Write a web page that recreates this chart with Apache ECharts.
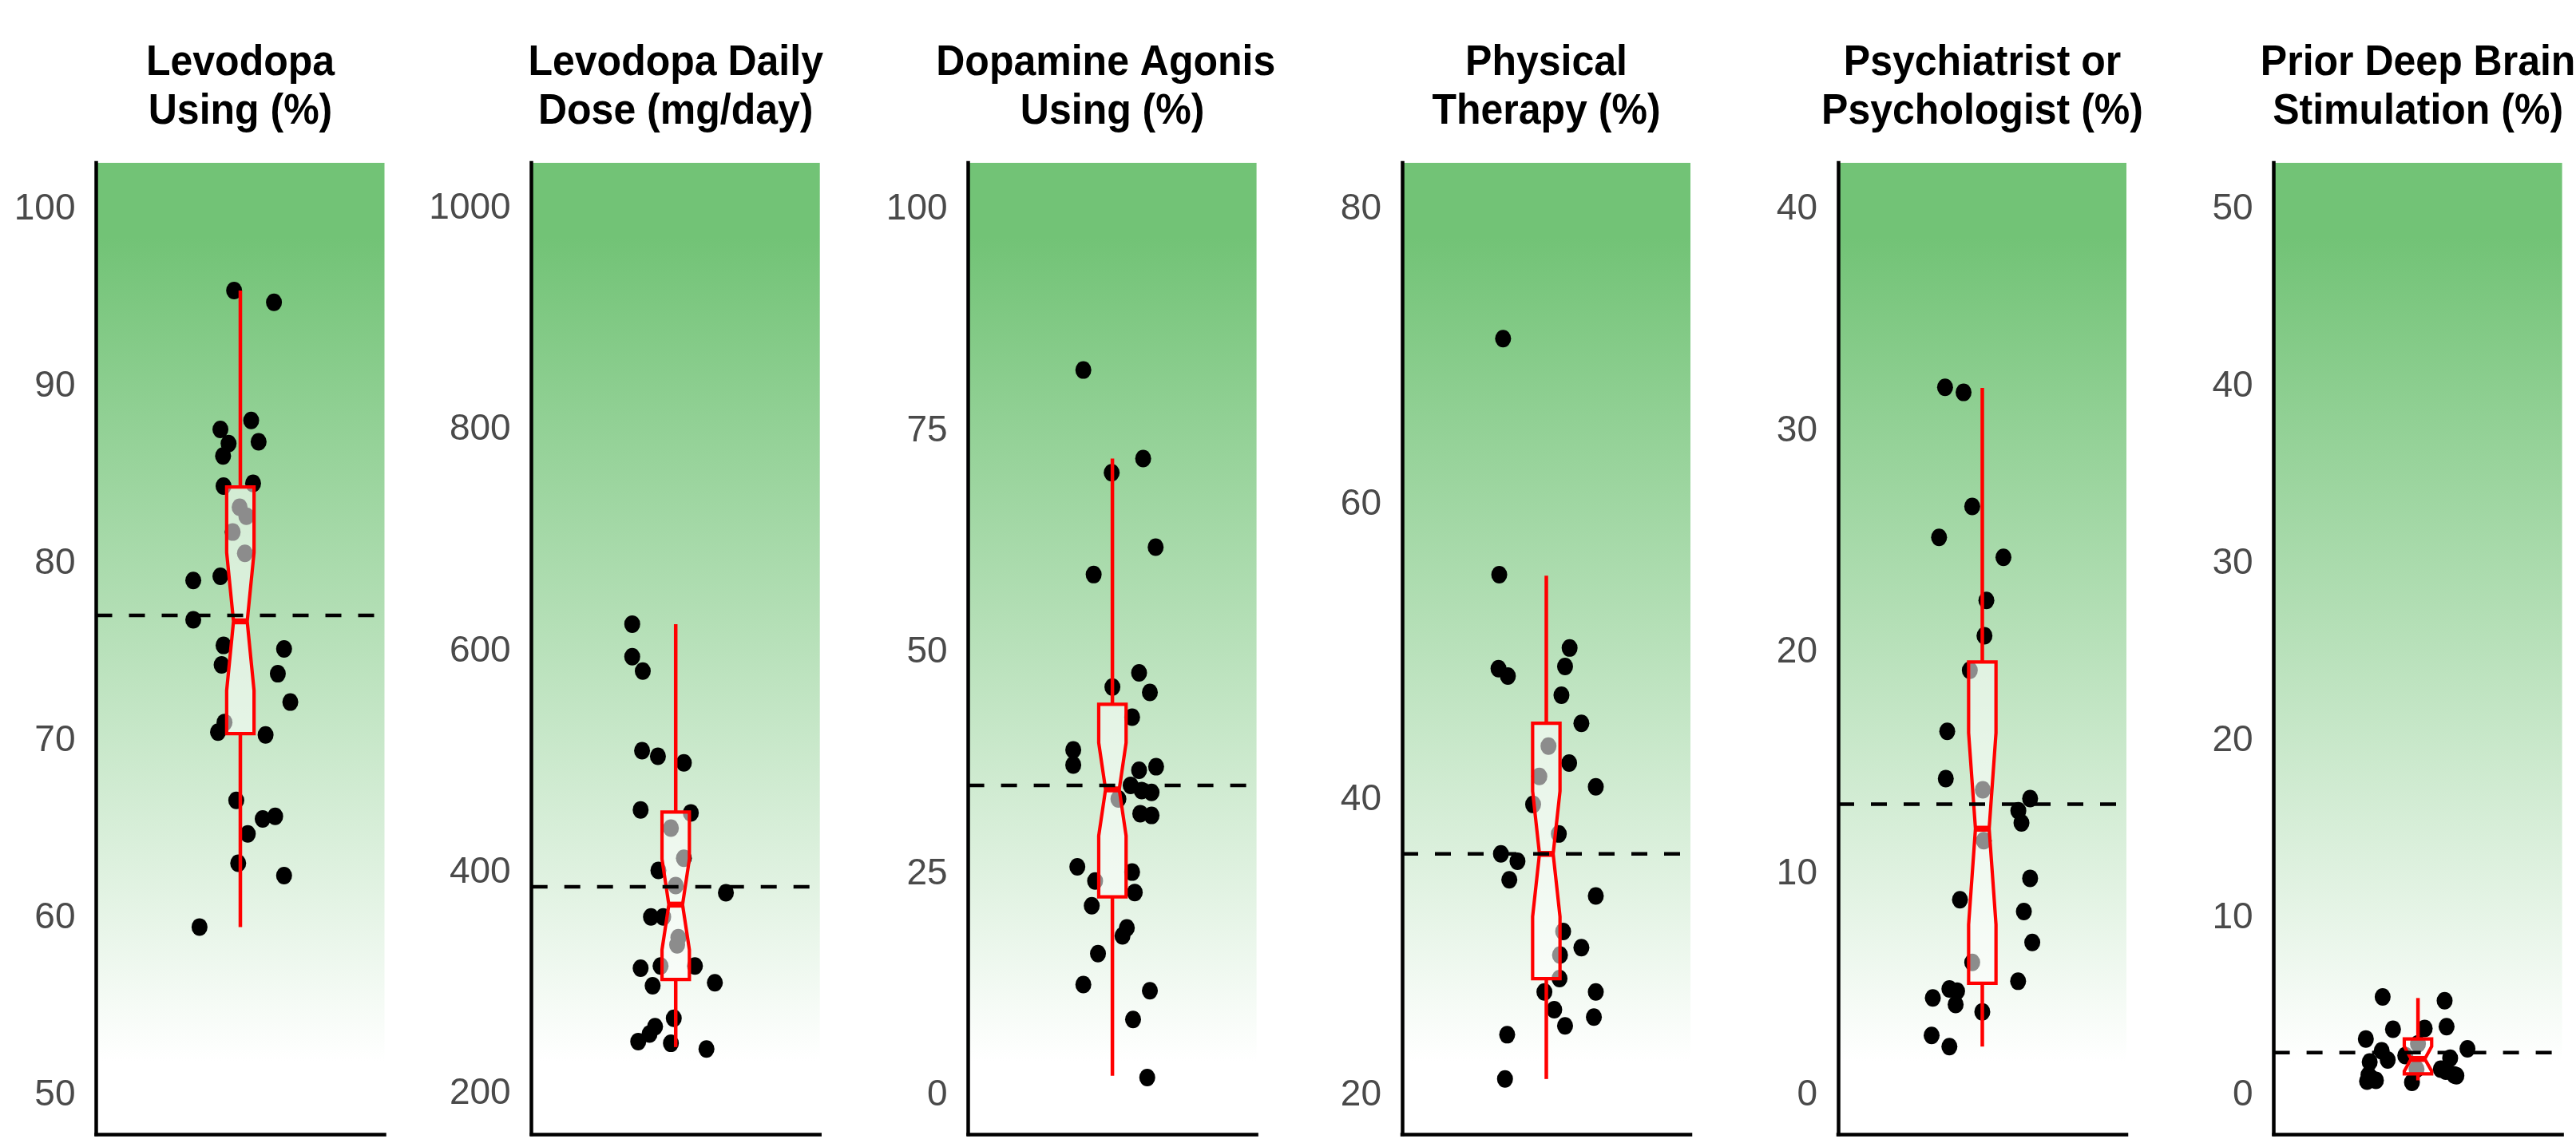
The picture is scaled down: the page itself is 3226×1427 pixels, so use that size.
<!DOCTYPE html>
<html>
<head>
<meta charset="utf-8">
<script src="https://cdn.jsdelivr.net/npm/echarts/dist/echarts.min.js"></script>
<style>
  html, body { margin: 0; padding: 0; background: #ffffff; }
  #chart { width: 3226px; height: 1427px; }
</style>
</head>
<body>
<div id="chart"></div>
<script>
// Panel titles, one array of lines per panel
const TITLE_LINES = [
  ['Levodopa', 'Using (%)'],
  ['Levodopa Daily', 'Dose (mg/day)'],
  ['Dopamine Agonist', 'Using (%)'],
  ['Physical', 'Therapy (%)'],
  ['Psychiatrist or', 'Psychologist (%)'],
  ['Prior Deep Brain', 'Stimulation (%)']
];

// Y tick labels per panel
const Y_TICKS = [
  [50, 60, 70, 80, 90, 100],
  [200, 400, 600, 800, 1000],
  [0, 25, 50, 75, 100],
  [20, 40, 60, 80],
  [0, 10, 20, 30, 40],
  [0, 10, 20, 30, 40, 50]
];

// Expanded y limits per panel
const Y_MIN = [47.8, 163.2, -4.4, 17.36, -1.76, -2.2];
const Y_MAX = [102.65, 1041.6, 105.3, 83.17, 42.12, 52.65];

// Reference (dashed) line per panel
const REF_LINES = [77.1, 387, 35.0, 36.35, 13.15, 2.41];

// Box statistics: [lower whisker, Q1, median, Q3, upper whisker, notch lower, notch upper]
const BOX_STATS = [
  [59.5, 70.42, 76.76, 84.35, 95.44, 72.85, 80.65],
  [242, 303.2, 370.8, 454.5, 624.5, 330, 412],
  [2.2, 22.4, 34.54, 44.16, 71.9, 29.3, 39.8],
  [21.1, 27.9, 36.35, 45.2, 55.2, 32.1, 40.6],
  [2.2, 5.06, 12.04, 19.57, 31.95, 7.71, 16.37],
  [0.84, 1.21, 2.05, 3.18, 5.49, 1.36, 2.76]
];

// Individual observations: [jittered x, value]
const levodopaUsing = [
  [0.974, 95.44], [1.140, 94.77], [1.045, 88.1], [0.917, 87.6], [0.951, 86.8], [0.928, 86.1],
  [1.076, 86.9], [0.930, 84.4], [1.053, 84.55], [0.997, 83.2], [1.025, 82.7], [0.968, 81.8],
  [1.019, 80.6], [0.804, 79.07], [0.917, 79.3], [0.804, 76.85], [0.930, 75.4], [1.182, 75.2],
  [0.922, 74.3], [1.156, 73.8], [1.208, 72.2], [0.907, 70.5], [0.934, 71.05], [1.105, 70.35],
  [0.983, 66.65], [1.093, 65.6], [1.145, 65.75], [1.031, 64.76], [0.991, 63.1], [1.182, 62.4],
  [0.830, 59.5]
];
const levodopaDose = [
  [0.819, 624.5], [0.819, 595], [0.863, 582], [0.860, 510], [0.926, 505], [1.034, 499],
  [0.854, 456.5], [1.063, 453.8], [0.980, 440], [1.034, 412.8], [0.928, 401.7], [1.000, 388],
  [1.209, 381.5], [0.897, 359.7], [0.948, 359.7], [1.011, 341], [1.006, 334.5], [0.854, 313.3],
  [0.937, 315.3], [1.080, 315.3], [0.904, 297.5], [1.163, 300.2], [0.992, 268], [0.914, 260.5],
  [0.891, 253.8], [0.844, 247], [0.980, 245.4], [1.128, 240.3]
];
const agonistUsing = [
  [0.879, 81.9], [1.128, 71.9], [0.997, 70.3], [1.180, 61.9], [0.922, 58.8], [1.111, 47.7],
  [1.000, 46.1], [1.156, 45.5], [1.082, 42.7], [0.837, 39.0], [0.837, 37.3], [1.111, 36.7],
  [1.182, 37.1], [1.076, 35.0], [1.122, 34.4], [1.163, 34.2], [1.025, 33.45], [1.116, 31.8],
  [1.163, 31.6], [0.854, 25.8], [1.082, 25.2], [0.928, 24.2], [1.093, 22.9], [0.914, 21.4],
  [1.060, 18.9], [1.042, 18.0], [0.940, 16.0], [0.879, 12.5], [1.156, 11.8], [1.086, 8.55],
  [1.145, 2.0]
];
const physicalTherapy = [
  [0.820, 71.26], [0.804, 55.27], [1.097, 50.3], [0.801, 48.9], [0.840, 48.4], [1.078, 49.05],
  [1.063, 47.1], [1.146, 45.2], [1.009, 43.65], [1.095, 42.5], [0.971, 41.6], [1.206, 40.9],
  [0.945, 39.7], [1.052, 37.7], [0.811, 36.35], [0.880, 35.85], [0.846, 34.6], [1.206, 33.5],
  [1.070, 31.1], [1.146, 30.0], [1.057, 29.5], [1.055, 27.9], [0.992, 27.0], [1.206, 27.0],
  [1.033, 25.8], [1.198, 25.3], [1.078, 24.7], [0.837, 24.1], [0.828, 21.1]
];
const psychCare = [
  [0.845, 31.98], [0.922, 31.75], [0.958, 26.6], [0.820, 25.2], [1.088, 24.3], [1.017, 22.35],
  [1.009, 20.76], [0.948, 19.2], [0.854, 16.44], [0.848, 14.3], [1.002, 13.8], [1.199, 13.4],
  [1.150, 12.85], [1.163, 12.3], [1.006, 11.5], [1.199, 9.8], [0.907, 8.83], [1.173, 8.3],
  [1.208, 6.9], [0.958, 6.0], [1.149, 5.15], [0.863, 4.8], [0.895, 4.7], [0.889, 4.1],
  [0.794, 4.4], [1.000, 3.77], [0.789, 2.7], [0.863, 2.2]
];
const priorDbs = [
  [0.853, 5.55], [1.111, 5.34], [0.896, 3.73], [1.028, 3.77], [1.119, 3.87], [0.783, 3.18],
  [1.206, 2.62], [0.849, 2.51], [0.947, 2.24], [0.874, 1.99], [0.799, 1.88], [1.134, 2.09],
  [0.794, 1.15], [1.095, 1.47], [1.151, 1.15], [0.788, 0.8], [0.825, 0.84], [0.975, 0.73],
  [1.000, 2.9], [0.994, 1.47], [0.807, 0.94], [1.116, 1.36], [1.160, 1.1]
];
const POINTS = [levodopaUsing, levodopaDose, agonistUsing, physicalTherapy, psychCare, priorDbs];

// Layout
const GRID_LEFTS = [120.5, 665.7, 1212.6, 1756, 2302, 2847.6];
const GRID_W = 361;
const GRID_TOP = 204;
const GRID_BOTTOM = 6;
const X_MIN = 0.4, X_MAX = 1.6, BOX_X = 1;
const BOX_WIDTH = 0.114;
const RED = '#ff0000';
const FONT = '"Liberation Sans", Arial, Helvetica, sans-serif';
const TITLE_SIZE = 50;
const TITLE_CLIP = 38;

const bgGradient = {
  type: 'linear', x: 0, y: 0, x2: 0, y2: 1,
  colorStops: [
    { offset: 0, color: '#72c376' },
    { offset: 0.077, color: '#72c376' },
    { offset: 0.925, color: '#ffffff' },
    { offset: 1, color: '#ffffff' }
  ]
};

function renderNotchedBox(params, api) {
  const x = api.value(0);
  const lo = api.value(1), q1 = api.value(2), med = api.value(3), q3 = api.value(4);
  const hi = api.value(5), nlo = api.value(6), nhi = api.value(7);
  const half = api.size([BOX_WIDTH, 0])[0] / 2;
  const cx = api.coord([x, med])[0];
  const py = v => api.coord([x, v])[1];
  const xl = cx - half, xr = cx + half, ind = half / 2;
  const lineStyle = { stroke: RED, lineWidth: 4.5 };
  return {
    type: 'group',
    children: [
      { type: 'line', shape: { x1: cx, y1: py(q3), x2: cx, y2: py(hi) }, style: lineStyle },
      { type: 'line', shape: { x1: cx, y1: py(q1), x2: cx, y2: py(lo) }, style: lineStyle },
      {
        type: 'polygon',
        shape: {
          points: [
            [xl, py(q3)], [xl, py(nhi)], [xl + ind, py(med)], [xl, py(nlo)], [xl, py(q1)],
            [xr, py(q1)], [xr, py(nlo)], [xr - ind, py(med)], [xr, py(nhi)], [xr, py(q3)]
          ]
        },
        style: { fill: 'rgba(255,255,255,0.55)', stroke: RED, lineWidth: 4.2, lineJoin: 'miter' }
      },
      { type: 'line', shape: { x1: xl + ind, y1: py(med), x2: xr - ind, y2: py(med) }, style: { stroke: RED, lineWidth: 7.5 } }
    ]
  };
}

const measureCtx = document.createElement('canvas').getContext('2d');
measureCtx.font = 'bold ' + TITLE_SIZE + 'px ' + FONT;

const grids = [], xAxes = [], yAxes = [], series = [], graphics = [];

GRID_LEFTS.forEach((left, i) => {
  grids.push({
    left: left, top: GRID_TOP, width: GRID_W, bottom: GRID_BOTTOM,
    show: true, borderWidth: 0, backgroundColor: bgGradient
  });
  xAxes.push({
    type: 'value', gridIndex: i, min: X_MIN, max: X_MAX,
    axisLine: { show: true, onZero: false, lineStyle: { color: '#000', width: 4.5, cap: 'square' } },
    axisTick: { show: false }, axisLabel: { show: false }, splitLine: { show: false }
  });
  yAxes.push({
    type: 'value', gridIndex: i, min: Y_MIN[i], max: Y_MAX[i],
    axisLine: { show: true, onZero: false, lineStyle: { color: '#000', width: 4.5, cap: 'square' } },
    axisTick: { show: false }, splitLine: { show: false },
    axisLabel: {
      customValues: Y_TICKS[i], fontSize: 46, color: '#4a4a4a', margin: 26, fontFamily: FONT,
      formatter: v => String(v)
    }
  });
  series.push({
    type: 'scatter', xAxisIndex: i, yAxisIndex: i, data: POINTS[i],
    symbol: 'circle', symbolSize: [20, 22], itemStyle: { color: '#000', opacity: 1 }, z: 2, silent: true
  });
  series.push({
    type: 'custom', xAxisIndex: i, yAxisIndex: i,
    data: [[BOX_X].concat(BOX_STATS[i])],
    encode: { x: 0, y: [1, 2, 3, 4, 5, 6, 7] },
    renderItem: renderNotchedBox, z: 3, silent: true
  });
  series.push({
    type: 'line', xAxisIndex: i, yAxisIndex: i,
    data: [[X_MIN, REF_LINES[i]], [X_MAX, REF_LINES[i]]],
    symbol: 'none', lineStyle: { color: '#000', width: 4.5, type: [20, 21] }, z: 4, silent: true
  });

  const center = left + GRID_W / 2;
  const clipRight = left + GRID_W + TITLE_CLIP;
  TITLE_LINES[i].forEach((line, j) => {
    const w = measureCtx.measureText(line).width;
    const style = {
      text: line, fill: '#000', fontSize: TITLE_SIZE, fontWeight: 'bold', fontFamily: FONT,
      textVerticalAlign: 'middle'
    };
    let x = center;
    if (center + w / 2 > clipRight) {
      x = center - w / 2;
      style.textAlign = 'left';
      style.width = clipRight - x;
      style.overflow = 'truncate';
      style.ellipsis = '';
    } else {
      style.textAlign = 'center';
    }
    graphics.push({ type: 'text', x: x, y: 79 + j * 61, scaleY: 1.08, style: style, silent: true });
  });
});

const chart = echarts.init(document.getElementById('chart'), null, { renderer: 'canvas' });
chart.setOption({
  animation: false,
  backgroundColor: '#ffffff',
  grid: grids,
  xAxis: xAxes,
  yAxis: yAxes,
  series: series,
  graphic: graphics
});
</script>
</body>
</html>
